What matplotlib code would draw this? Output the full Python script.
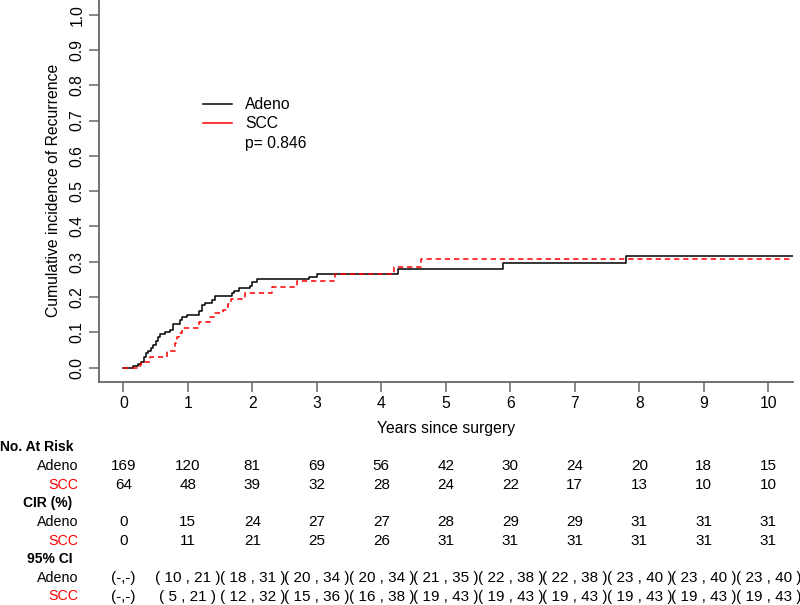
import matplotlib
matplotlib.use("Agg")
import matplotlib.pyplot as plt
from matplotlib.lines import Line2D
from matplotlib.transforms import blended_transform_factory

plt.rcParams['font.family'] = ['Liberation Sans', 'DejaVu Sans']

# cumulative incidence steps (years, CIR)
adeno_times = [0, 0.155, 0.233, 0.27, 0.32, 0.347, 0.388, 0.425, 0.465, 0.502,
               0.533, 0.569, 0.647, 0.724, 0.766, 0.879, 0.905, 0.983, 1.178,
               1.215, 1.267, 1.37, 1.42, 1.69, 1.72, 1.80, 1.96, 2.0, 2.08,
               2.88, 3.0, 4.26, 5.88, 7.79]
adeno_cir = [0, 0.005, 0.0105, 0.015, 0.031, 0.0425, 0.048, 0.055, 0.064, 0.076,
             0.088, 0.095, 0.100, 0.107, 0.124, 0.135, 0.144, 0.149, 0.161,
             0.178, 0.182, 0.192, 0.203, 0.211, 0.218, 0.225, 0.232, 0.242, 0.250,
             0.258, 0.266, 0.279, 0.296, 0.316]

scc_times = [0, 0.26, 0.275, 0.414, 0.673, 0.80, 0.83, 0.87, 0.905, 1.18, 1.345,
             1.42, 1.55, 1.60, 1.62, 1.665, 1.887, 2.30, 2.69, 3.28, 4.19, 4.62]
scc_cir = [0, 0.008, 0.017, 0.031, 0.047, 0.069, 0.088, 0.099, 0.111, 0.128, 0.144,
           0.154, 0.163, 0.172, 0.180, 0.195, 0.211, 0.228, 0.246, 0.265, 0.284, 0.308]

end_time = 10.38

years = list(range(11))
risk_adeno = [169, 120, 81, 69, 56, 42, 30, 24, 20, 18, 15]
risk_scc = [64, 48, 39, 32, 28, 24, 22, 17, 13, 10, 10]
cir_adeno = [0, 15, 24, 27, 27, 28, 29, 29, 31, 31, 31]
cir_scc = [0, 11, 21, 25, 26, 31, 31, 31, 31, 31, 31]
ci_adeno = [None, (10, 21), (18, 31), (20, 34), (20, 34), (21, 35), (22, 38),
            (22, 38), (23, 40), (23, 40), (23, 40)]
ci_scc = [None, (5, 21), (12, 32), (15, 36), (16, 38), (19, 43), (19, 43),
          (19, 43), (19, 43), (19, 43), (19, 43)]
p_value = 0.846

W, H = 800, 605
fig = plt.figure(figsize=(W / 100, H / 100), dpi=100)
ax = fig.add_axes([99 / W, 1 - 381.7 / H, 694 / W, 381.7 / H])

ax.step(adeno_times + [end_time], adeno_cir + [adeno_cir[-1]], where='post',
        color='black', lw=1.1)
ax.step(scc_times + [end_time], scc_cir + [scc_cir[-1]], where='post',
        color='red', lw=1.1, linestyle=(0, (3.5, 2.5)))

ax.set_xlim(-0.377, 10.383)
ax.set_ylim(-0.04, 1.0416)
for s in ['top', 'right']:
    ax.spines[s].set_visible(False)
for s in ['left', 'bottom']:
    ax.spines[s].set_color('#666666')
    ax.spines[s].set_linewidth(1.3)

ax.set_xticks(years)
yt = [i / 10 for i in range(11)]
ax.set_yticks(yt)
ax.set_yticklabels([f"{v:.1f}" for v in yt], rotation=90, va='center')
ax.tick_params(length=7.2, width=1.1, color='#666666', labelsize=11.3, pad=3.2)

ax.set_xlabel("Years since surgery", fontsize=11.3)
ax.xaxis.set_label_coords(0.5, -0.103)
ax.set_ylabel("Cumulative incidence of Recurrence", fontsize=11.3)
ax.yaxis.set_label_coords(-0.055, 0.5)

handles = [Line2D([], [], color='black', lw=1.1),
           Line2D([], [], color='red', lw=1.1),
           Line2D([], [], color='none')]
ax.legend(handles, ["Adeno", "SCC", f"p= {p_value}"], loc='upper left',
          bbox_to_anchor=(203 / W, 1 - 97 / H), bbox_transform=fig.transFigure,
          frameon=False, fontsize=11.3, handlelength=1.85, handletextpad=0.85,
          labelspacing=0.28, borderpad=0, borderaxespad=0)

# risk table below the plot
trans = blended_transform_factory(ax.transData, fig.transFigure)
row_y = [447.3 + i * 18.65 for i in range(9)]


def fy(py):
    return 1 - py / H


def ci_text(c):
    return "(-,-)" if c is None else f"( {c[0]} , {c[1]} )"


headers = [(0, "No. At Risk", 'left'), (3, "CIR (%)", 'right'), (6, "95% CI", 'right')]
for row, text, ha in headers:
    x = 0.5 / W if ha == 'left' else 72.7 / W
    fig.text(x, fy(row_y[row]), text, fontsize=10, fontweight='bold', ha=ha, va='center')

rows = [risk_adeno, risk_scc, cir_adeno, cir_scc,
        [ci_text(c) for c in ci_adeno], [ci_text(c) for c in ci_scc]]
row_idx = [1, 2, 4, 5, 7, 8]
for k, (vals, r) in enumerate(zip(rows, row_idx)):
    group = "Adeno" if k % 2 == 0 else "SCC"
    fig.text(78.3 / W, fy(row_y[r]), group, fontsize=10.3, ha='right', va='center',
             color='black' if group == "Adeno" else 'red')
    for yr, v in zip(years, vals):
        ax.text(yr, fy(row_y[r]), str(v), transform=trans, fontsize=11,
                ha='center', va='center', clip_on=False)

fig.savefig("out.png", dpi=100)
